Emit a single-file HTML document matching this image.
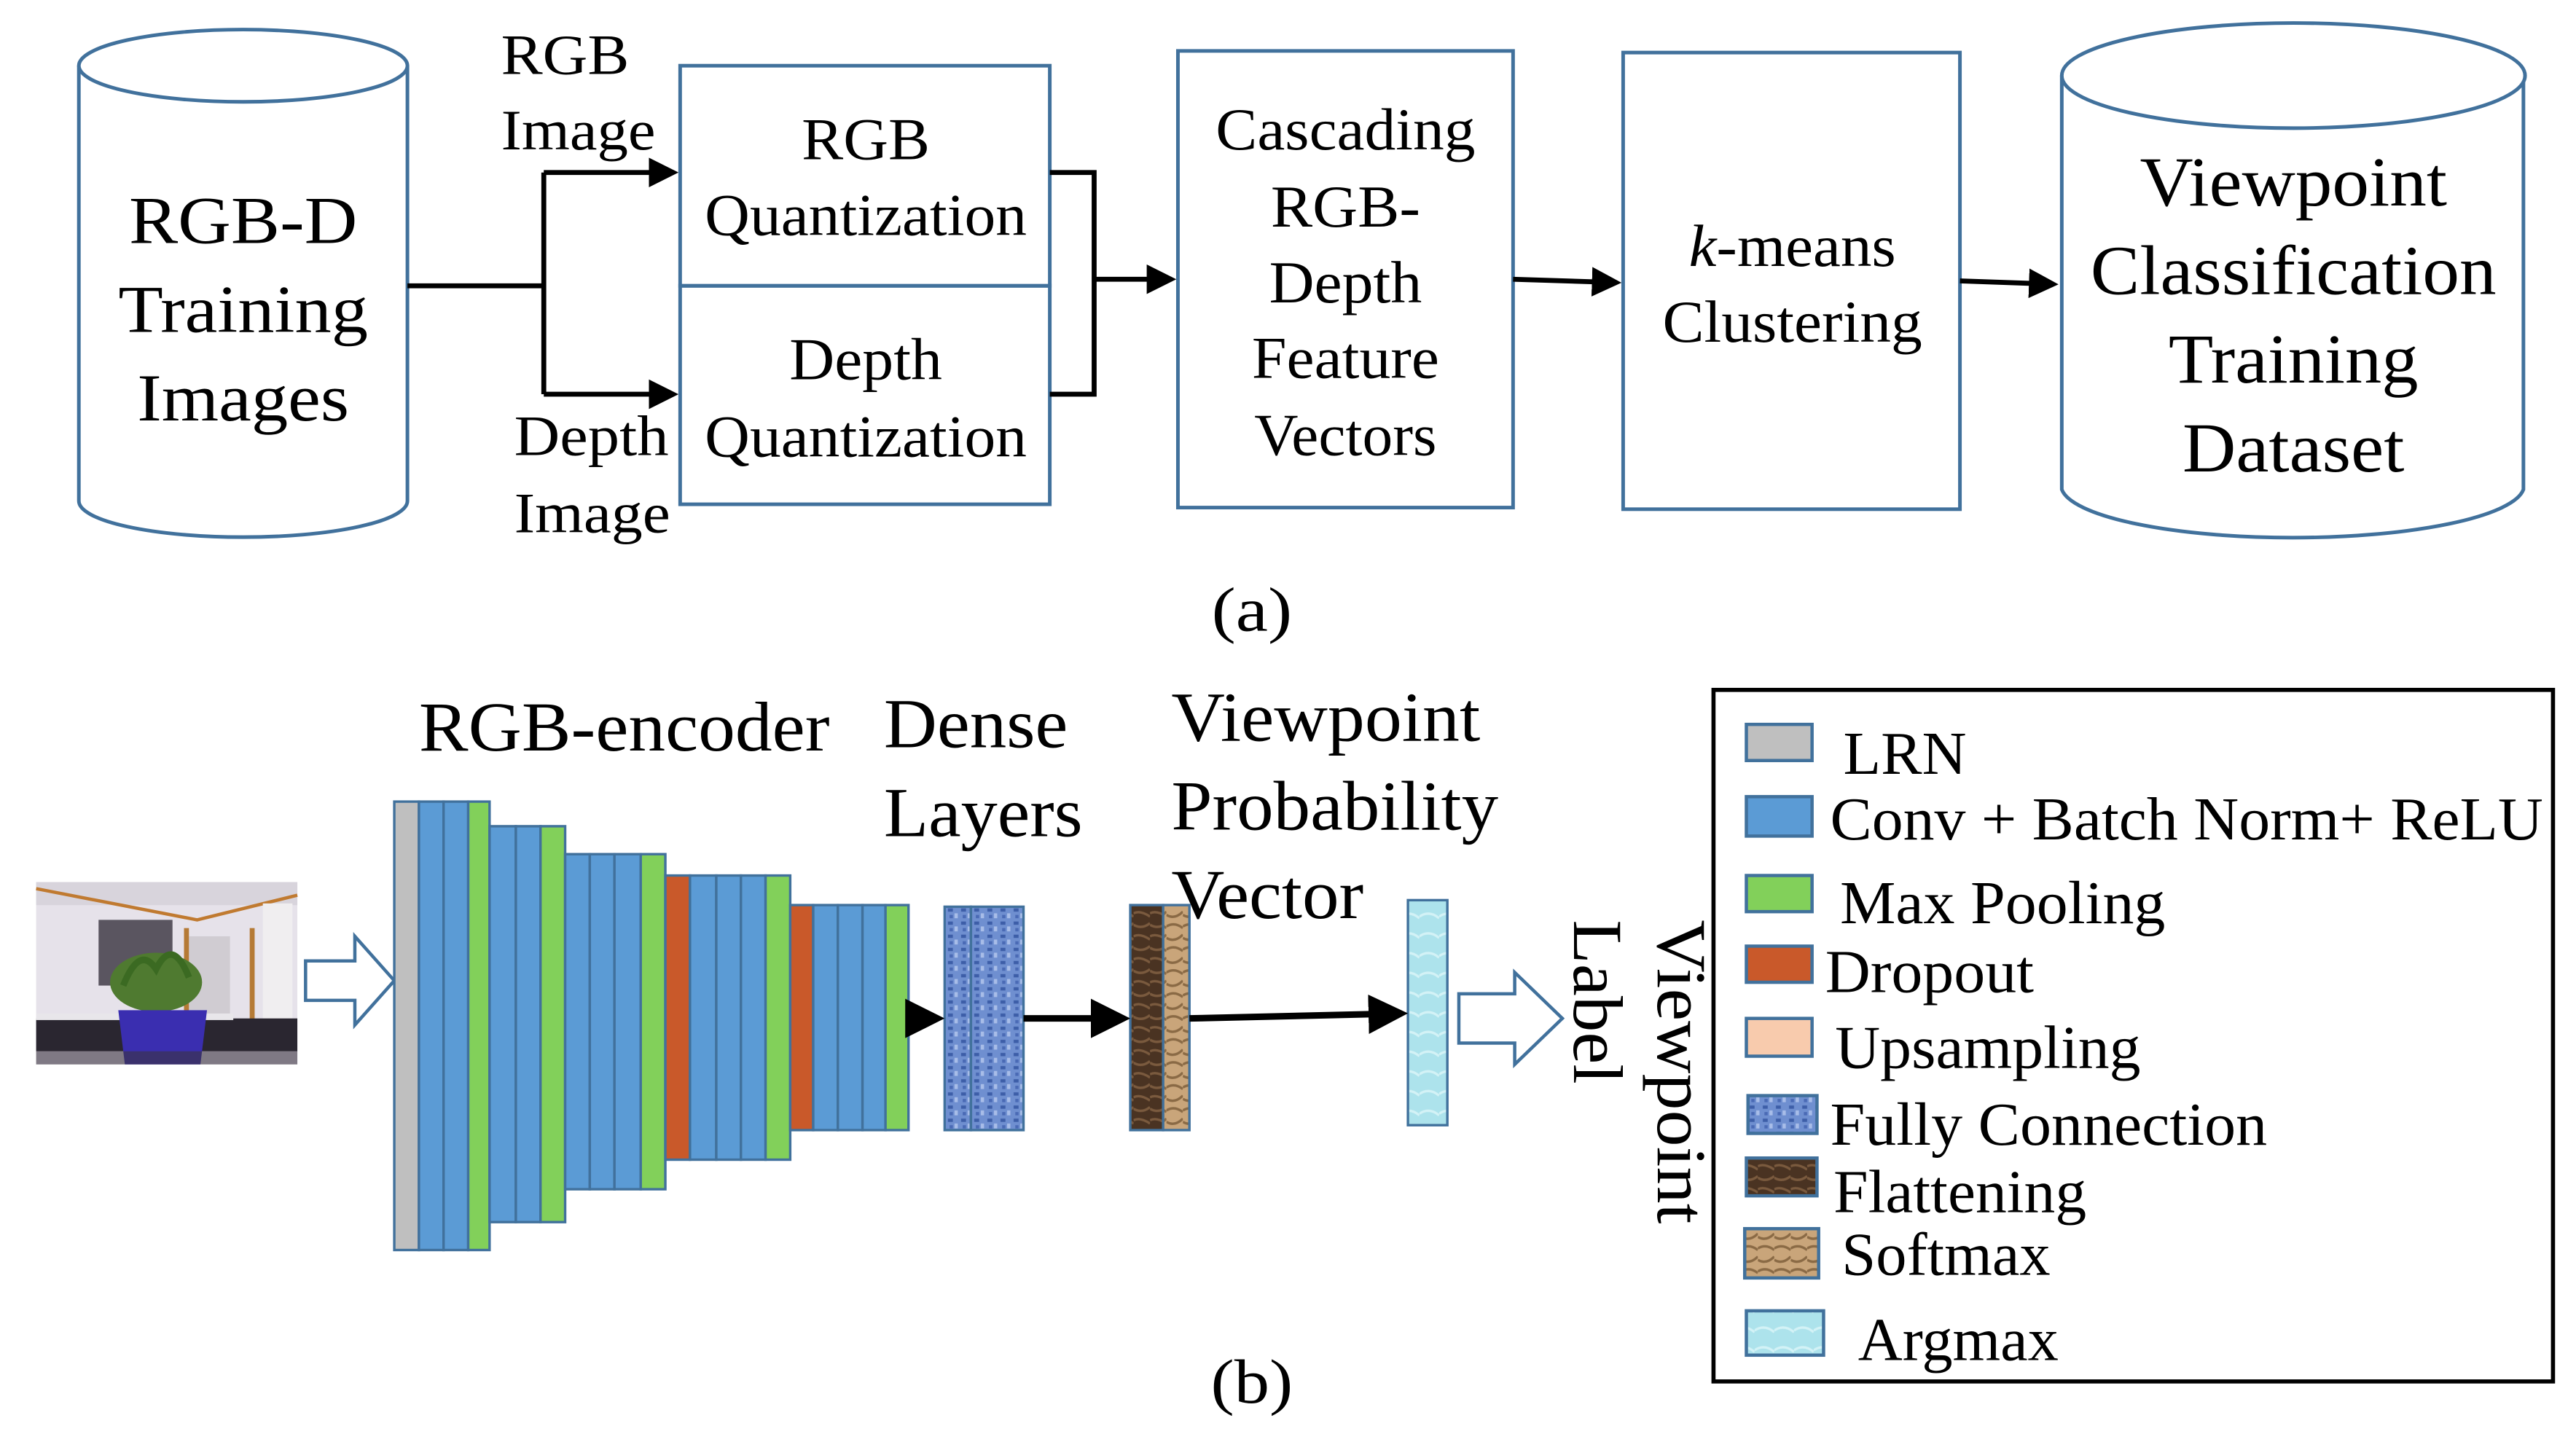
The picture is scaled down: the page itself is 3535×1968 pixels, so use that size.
<!DOCTYPE html>
<html><head><meta charset="utf-8"><style>html,body{margin:0;padding:0;background:#fff;}svg{display:block}text{font-family:"Liberation Serif",serif}</style></head>
<body>
<svg width="3535" height="1968" viewBox="0 0 1568 873" preserveAspectRatio="none" xmlns="http://www.w3.org/2000/svg">
<defs>
<marker id="ar" markerWidth="6" markerHeight="6" refX="5" refY="3" orient="auto" markerUnits="strokeWidth"><path d="M0,0 L6,3 L0,6 z" fill="#000"/></marker>
<pattern id="fc" width="8" height="8" patternUnits="userSpaceOnUse"><rect width="8" height="8" fill="#6f8fd0"/><rect x="1" y="1" width="3" height="2" fill="#3d5ea8"/><rect x="5" y="4" width="2" height="3" fill="#a8bde8"/><rect x="2" y="5" width="2" height="2" fill="#4a6ab5"/></pattern>
<pattern id="fl" width="10" height="14" patternUnits="userSpaceOnUse"><rect width="10" height="14" fill="#4a3322"/><path d="M0,3 Q5,6 10,2 M0,10 Q4,8 10,12" stroke="#7a5a3e" stroke-width="1.5" fill="none"/></pattern>
<pattern id="sm" width="10" height="14" patternUnits="userSpaceOnUse"><rect width="10" height="14" fill="#c9a57a"/><path d="M0,4 Q5,1 10,5 M0,11 Q5,14 10,9" stroke="#8a6a45" stroke-width="1.5" fill="none"/></pattern>
<pattern id="am" width="12" height="12" patternUnits="userSpaceOnUse"><rect width="12" height="12" fill="#ade3ec"/><path d="M0,6 Q6,2 12,7" stroke="#d3f2f6" stroke-width="1.5" fill="none"/></pattern>
</defs>
<g fill="none" stroke="#41719c" stroke-width="2.2">
<path d="M48,40 L48,305 A100,22 0 0 0 248,305 L248,40"/><ellipse cx="148" cy="40" rx="100" ry="22" fill="#fff"/>
<path d="M1255,46 L1255,298 A141,32 0 0 0 1536,298 L1536,46"/><ellipse cx="1396" cy="46" rx="141" ry="32" fill="#fff"/>
<rect x="414" y="40" width="225" height="134"/><rect x="414" y="174" width="225" height="133"/>
<rect x="717" y="31" width="204" height="278"/><rect x="988" y="32" width="205" height="278"/>
</g>
<g stroke="#000" stroke-width="3" fill="none">
<path d="M248,174 H331 M331,105 V240"/>
<path d="M331,105 H410" marker-end="url(#ar)"/><path d="M331,240 H410" marker-end="url(#ar)"/>
<path d="M639,105 H666 V240 H639"/><path d="M666,170 H713" marker-end="url(#ar)"/>
<path d="M921,170 L984,172" marker-end="url(#ar)"/><path d="M1193,171 L1250,173" marker-end="url(#ar)"/>
</g>
<g font-size="41" text-anchor="middle" fill="#000" lengthAdjust="spacingAndGlyphs">
<text x="148" y="148" textLength="139" lengthAdjust="spacingAndGlyphs">RGB-D</text><text x="148" y="202" textLength="152" lengthAdjust="spacingAndGlyphs">Training</text><text x="148" y="256" textLength="129" lengthAdjust="spacingAndGlyphs">Images</text>
</g>
<g font-size="35" fill="#000">
<text x="305" y="45" textLength="78" lengthAdjust="spacingAndGlyphs">RGB</text><text x="305" y="91" textLength="94" lengthAdjust="spacingAndGlyphs">Image</text>
<text x="313" y="277" textLength="94" lengthAdjust="spacingAndGlyphs">Depth</text><text x="313" y="324" textLength="95" lengthAdjust="spacingAndGlyphs">Image</text>
</g>
<g font-size="36" text-anchor="middle" fill="#000">
<text x="527" y="97" textLength="78" lengthAdjust="spacingAndGlyphs">RGB</text><text x="527" y="143" textLength="196" lengthAdjust="spacingAndGlyphs">Quantization</text>
<text x="527" y="231" textLength="93" lengthAdjust="spacingAndGlyphs">Depth</text><text x="527" y="278" textLength="196" lengthAdjust="spacingAndGlyphs">Quantization</text>
<text x="819" y="91" textLength="158" lengthAdjust="spacingAndGlyphs">Cascading</text><text x="819" y="138" textLength="91" lengthAdjust="spacingAndGlyphs">RGB-</text><text x="819" y="184" textLength="93" lengthAdjust="spacingAndGlyphs">Depth</text><text x="819" y="230" textLength="114" lengthAdjust="spacingAndGlyphs">Feature</text><text x="819" y="277" textLength="111" lengthAdjust="spacingAndGlyphs">Vectors</text>
<text x="1091" y="162" textLength="126" lengthAdjust="spacingAndGlyphs"><tspan font-style="italic">k</tspan>-means</text><text x="1091" y="208" textLength="158" lengthAdjust="spacingAndGlyphs">Clustering</text>
</g>
<g font-size="43" text-anchor="middle" fill="#000">
<text x="1396" y="125" textLength="187" lengthAdjust="spacingAndGlyphs">Viewpoint</text><text x="1396" y="179" textLength="247" lengthAdjust="spacingAndGlyphs">Classification</text><text x="1396" y="233" textLength="152" lengthAdjust="spacingAndGlyphs">Training</text><text x="1396" y="287" textLength="135" lengthAdjust="spacingAndGlyphs">Dataset</text>
</g>
<text x="762" y="384" font-size="38" text-anchor="middle" textLength="49" lengthAdjust="spacingAndGlyphs">(a)</text>

<g font-size="43" fill="#000">
<text x="255" y="457" textLength="250" lengthAdjust="spacingAndGlyphs">RGB-encoder</text>
<text x="538" y="455" textLength="112" lengthAdjust="spacingAndGlyphs">Dense</text><text x="538" y="509" textLength="121" lengthAdjust="spacingAndGlyphs">Layers</text>
<text x="713" y="451" textLength="188" lengthAdjust="spacingAndGlyphs">Viewpoint</text><text x="713" y="505" textLength="199" lengthAdjust="spacingAndGlyphs">Probability</text><text x="713" y="559" textLength="117" lengthAdjust="spacingAndGlyphs">Vector</text>
<text transform="translate(1009,560) rotate(90)" textLength="185" lengthAdjust="spacingAndGlyphs">Viewpoint</text>
<text transform="translate(958,560) rotate(90)" textLength="100" lengthAdjust="spacingAndGlyphs">Label</text>
</g>
<!-- photo -->
<g>
<rect x="22" y="537" width="159" height="111" fill="#e6e2ea"/>
<rect x="22" y="537" width="159" height="14" fill="#d8d4dc"/>
<path d="M22,541 L120,560 L181,545" stroke="#c07a30" stroke-width="2" fill="none"/>
<rect x="60" y="560" width="45" height="40" fill="#5a5560"/>
<rect x="115" y="570" width="25" height="55" fill="#d0ccd2"/><rect x="112" y="565" width="3" height="60" fill="#b57a35"/><rect x="152" y="565" width="3" height="60" fill="#b57a35"/>
<rect x="160" y="550" width="18" height="90" fill="#f0eef0"/>
<rect x="22" y="620" width="159" height="20" fill="#2a2630"/>
<rect x="22" y="617" width="120" height="4" fill="#e8e6ea"/>
<ellipse cx="95" cy="598" rx="28" ry="18" fill="#4f7a30"/>
<path d="M75,600 Q85,575 95,590 Q105,570 115,595" stroke="#3b6a22" stroke-width="4" fill="none"/>
<path d="M72,615 H126 L122,648 H76 Z" fill="#3a2eb0"/>
<rect x="22" y="640" width="159" height="8" fill="#3a3340" opacity="0.6"/>
</g>
<path d="M186,585 H216 V570 L240,597 L216,624 V609 H186 Z" fill="#fff" stroke="#41719c" stroke-width="2"/>
<!-- encoder -->
<g stroke="#41719c" stroke-width="1.5">
<rect x="240" y="488" width="15" height="273" fill="#bfbfbf"/><rect x="255" y="488" width="15" height="273" fill="#5b9bd5"/><rect x="270" y="488" width="15" height="273" fill="#5b9bd5"/><rect x="285" y="488" width="13" height="273" fill="#82d05a"/>
<rect x="298" y="503" width="16" height="241" fill="#5b9bd5"/><rect x="314" y="503" width="15" height="241" fill="#5b9bd5"/><rect x="329" y="503" width="15" height="241" fill="#82d05a"/>
<rect x="344" y="520" width="15" height="204" fill="#5b9bd5"/><rect x="359" y="520" width="15" height="204" fill="#5b9bd5"/><rect x="374" y="520" width="16" height="204" fill="#5b9bd5"/><rect x="390" y="520" width="15" height="204" fill="#82d05a"/>
<rect x="405" y="533" width="15" height="173" fill="#c9592a"/><rect x="420" y="533" width="16" height="173" fill="#5b9bd5"/><rect x="436" y="533" width="15" height="173" fill="#5b9bd5"/><rect x="451" y="533" width="15" height="173" fill="#5b9bd5"/><rect x="466" y="533" width="15" height="173" fill="#82d05a"/>
<rect x="481" y="551" width="14" height="137" fill="#c9592a"/><rect x="495" y="551" width="15" height="137" fill="#5b9bd5"/><rect x="510" y="551" width="15" height="137" fill="#5b9bd5"/><rect x="525" y="551" width="14" height="137" fill="#5b9bd5"/><rect x="539" y="551" width="14" height="137" fill="#82d05a"/>
<rect x="575" y="552" width="16" height="136" fill="url(#fc)"/><rect x="591" y="552" width="32" height="136" fill="url(#fc)"/>
<rect x="688" y="551" width="20" height="137" fill="url(#fl)"/><rect x="708" y="551" width="16" height="137" fill="url(#sm)"/>
<rect x="857" y="548" width="24" height="137" fill="url(#am)"/>
</g>
<g stroke="#000" stroke-width="4" fill="none">
<path d="M553,620 H571" marker-end="url(#ar)"/>
<path d="M623,620 H684" marker-end="url(#ar)"/>
<path d="M724,620 L853,617" marker-end="url(#ar)"/>
</g>
<path d="M888,605 H922 V592 L951,620 L922,648 V635 H888 Z" fill="#fff" stroke="#41719c" stroke-width="2"/>
<!-- legend -->
<rect x="1043" y="420" width="511" height="421" fill="none" stroke="#000" stroke-width="2.5"/>
<g stroke="#41719c" stroke-width="2">
<rect x="1063" y="441" width="40" height="22" fill="#bfbfbf"/>
<rect x="1063" y="485" width="40" height="24" fill="#5b9bd5"/>
<rect x="1063" y="533" width="40" height="22" fill="#82d05a"/>
<rect x="1063" y="576" width="40" height="22" fill="#c9592a"/>
<rect x="1063" y="620" width="40" height="23" fill="#f8cbad"/>
<rect x="1064" y="667" width="42" height="23" fill="url(#fc)"/>
<rect x="1063" y="705" width="43" height="23" fill="url(#fl)"/>
<rect x="1062" y="748" width="45" height="30" fill="url(#sm)"/>
<rect x="1063" y="798" width="47" height="27" fill="url(#am)"/>
</g>
<g font-size="37" fill="#000">
<text x="1122" y="471" textLength="75" lengthAdjust="spacingAndGlyphs">LRN</text>
<text x="1114" y="511" textLength="434" lengthAdjust="spacingAndGlyphs">Conv + Batch Norm+ ReLU</text>
<text x="1120" y="562" textLength="198" lengthAdjust="spacingAndGlyphs">Max Pooling</text>
<text x="1111" y="604" textLength="127" lengthAdjust="spacingAndGlyphs">Dropout</text>
<text x="1117" y="650" textLength="186" lengthAdjust="spacingAndGlyphs">Upsampling</text>
<text x="1114" y="697" textLength="266" lengthAdjust="spacingAndGlyphs">Fully Connection</text>
<text x="1116" y="738" textLength="154" lengthAdjust="spacingAndGlyphs">Flattening</text>
<text x="1121" y="776" textLength="127" lengthAdjust="spacingAndGlyphs">Softmax</text>
<text x="1131" y="828" textLength="122" lengthAdjust="spacingAndGlyphs">Argmax</text>
</g>
<text x="762" y="854" font-size="38" text-anchor="middle" textLength="50" lengthAdjust="spacingAndGlyphs">(b)</text>
</svg>
</body></html>
